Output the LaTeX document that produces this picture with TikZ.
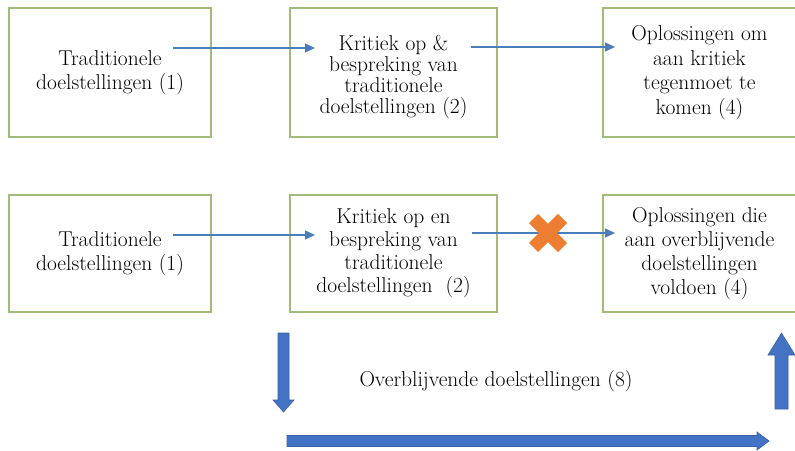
\documentclass[tikz,border=0pt]{standalone}
\usetikzlibrary{arrows.meta,calc}
\definecolor{boxgreen}{RGB}{160,188,120}
\definecolor{lineblue}{RGB}{74,126,187}
\definecolor{blockblue}{RGB}{68,114,196}
\definecolor{xorange}{RGB}{237,125,49}
\tikzset{
  box/.style={draw=boxgreen, line width=1.2pt, fill=white, align=center, inner sep=0pt,
              font=\fontsize{21.5}{24.5}\selectfont},
  conn/.style={draw=lineblue, line width=1.3pt, -{Triangle[length=10pt,width=9pt]}},
  block/.style={fill=blockblue, draw=blockblue!85!black, line width=0.6pt},
  xmark/.style={draw=xorange, line width=13pt},
  lbl/.style={font=\fontsize{21.5}{24.5}\selectfont, inner sep=0pt},
}
\begin{document}
\begin{tikzpicture}[x=1pt,y=-1pt]
\useasboundingbox[fill=white] (0,0) rectangle (795,450);
% row 1
\node[box, minimum width=202pt, minimum height=129pt] (A1) at (110,72.5) {Traditionele\\doelstellingen (1)};
\node[box, minimum width=207pt, minimum height=129pt, font=\fontsize{21.5}{21}\selectfont] (B1) at (393.5,72.5) {\rule{0pt}{24pt}Kritiek op \&\\bespreking van\\traditionele\\doelstellingen (2)};
\node[box, minimum width=193pt, minimum height=129pt] (C1) at (699.5,72.5) {Oplossingen om\\aan kritiek\\tegenmoet te\\komen (4)};
% row 2
\node[box, minimum width=202pt, minimum height=117pt] (A2) at (110,253.5) {Traditionele\\doelstellingen (1)};
\node[box, minimum width=207pt, minimum height=117pt, font=\fontsize{21.5}{23}\selectfont] (B2) at (393.5,253.5) {Kritiek op en\\bespreking van\\traditionele\\doelstellingen\ \ (2)};
\node[box, minimum width=193pt, minimum height=117pt, font=\fontsize{21.5}{24}\selectfont] (C2) at (699.5,253.5) {Oplossingen die\\aan overblijvende\\doelstellingen\\voldoen (4)};
% connector end points
\coordinate (a1o) at (173,48);
\coordinate (b1i) at (315,48);
\coordinate (b1o) at (471,47);
\coordinate (c1i) at (615,47);
\coordinate (a2o) at (173,235);
\coordinate (b2i) at (315,235);
\coordinate (b2o) at (472,233);
\coordinate (c2i) at (615,233);
\draw[conn] (a1o) -- (b1i);
\draw[conn] (b1o) -- (c1i);
\draw[conn] (a2o) -- (b2i);
\draw[conn] (b2o) -- (c2i);
% orange cross
\coordinate (xc) at (548,233);
\draw[xmark] ($(xc)+(-14.5,-14.5)$) -- ($(xc)+(14.5,14.5)$);
\draw[xmark] ($(xc)+(-14.5,14.5)$) -- ($(xc)+(14.5,-14.5)$);
% block arrows
\draw[block] (278,333) -- (289,333) -- (289,400) -- (294,400) -- (283.5,412) -- (273,400) -- (278,400) -- cycle;
\draw[block] (287,435.5) -- (757,435.5) -- (757,432) -- (769,441) -- (757,450) -- (757,446.5) -- (287,446.5) -- cycle;
\draw[block] (775,409) -- (775,355) -- (768,355) -- (781.5,333) -- (795,355) -- (788,355) -- (788,409) -- cycle;
\node[lbl] (rest) at (496,381) {Overblijvende doelstellingen (8)};
\end{tikzpicture}
\end{document}
